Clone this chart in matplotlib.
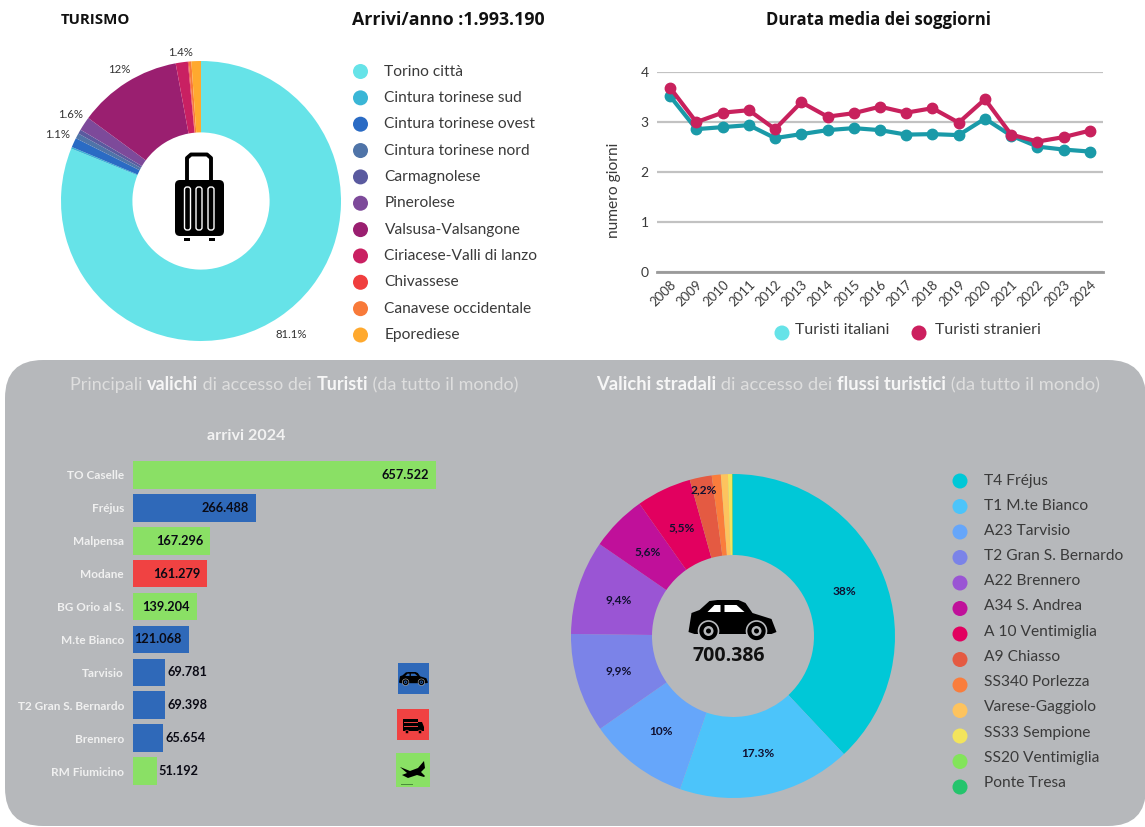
import math
import matplotlib
matplotlib.use("Agg")
import matplotlib.pyplot as plt
from matplotlib.patches import FancyBboxPatch, Rectangle, Circle, Polygon

plt.rcParams["font.family"] = ["Lato", "DejaVu Sans"]

W, H = 1145, 827

# top donut
area_names = ["Torino città", "Cintura torinese sud", "Cintura torinese ovest", "Cintura torinese nord",
              "Carmagnolese", "Pinerolese", "Valsusa-Valsangone", "Ciriacese-Valli di lanzo",
              "Chivassese", "Canavese occidentale", "Eporediese"]
area_share = [81.1, 0.2, 1.1, 0.6, 0.5, 1.6, 12.0, 1.4, 0.1, 0.3, 1.1]
area_colors = ["#66e3e8", "#3ab6d6", "#2a6bc4", "#4f74a8", "#5a5a9f", "#7d4a9a",
               "#9a1f70", "#c92062", "#f03e3e", "#f87a3a", "#ffa92e"]
area_labels = ["81.1%", "", "1.1%", "", "", "1.6%", "12%", "1.4%", "", "", ""]

# line chart
years = list(range(2008, 2025))
italiani = [3.52, 2.86, 2.90, 2.94, 2.68, 2.76, 2.84, 2.88, 2.84, 2.75, 2.76, 2.74, 3.07, 2.73, 2.51, 2.45, 2.41]
stranieri = [3.69, 3.00, 3.19, 3.24, 2.86, 3.40, 3.11, 3.18, 3.31, 3.19, 3.28, 2.99, 3.46, 2.75, 2.61, 2.70, 2.83]

# bars
valichi = ["TO Caselle", "Fréjus", "Malpensa", "Modane", "BG Orio al S.", "M.te Bianco",
           "Tarvisio", "T2 Gran S. Bernardo", "Brennero", "RM Fiumicino"]
arrivi = [657522, 266488, 167296, 161279, 139204, 121068, 69781, 69398, 65654, 51192]
arrivi_txt = ["657.522", "266.488", "167.296", "161.279", "139.204", "121.068", "69.781", "69.398", "65.654", "51.192"]
tipo = ["air", "road", "air", "rail", "air", "road", "road", "road", "road", "air"]
tipo_colors = {"air": "#8ae065", "road": "#2f69b9", "rail": "#f04242"}

# bottom donut
strade = ["T4 Fréjus", "T1 M.te Bianco", "A23 Tarvisio", "T2 Gran S. Bernardo", "A22 Brennero", "A34 S. Andrea",
          "A 10 Ventimiglia", "A9 Chiasso", "SS340 Porlezza", "Varese-Gaggiolo", "SS33 Sempione",
          "SS20 Ventimiglia", "Ponte Tresa"]
strade_share = [38.0, 17.3, 10.0, 9.9, 9.4, 5.6, 5.5, 2.2, 0.9, 0.7, 0.4, 0.05, 0.05]
strade_colors = ["#00c8d7", "#4cc4fa", "#66a6fa", "#7b83e8", "#9a55d4", "#c0109a", "#e2005f",
                 "#e45a42", "#fa7d3c", "#fdc35e", "#f3e45c", "#82e45a", "#24c46c"]
strade_labels = ["38%", "17.3%", "10%", "9,9%", "9,4%", "5,6%", "5,5%", "2,2%", "", "", "", "", ""]

PANEL = "#b6b8bb"
TXT = "#3a3a3a"
HEAD = ["Open Sans", "DejaVu Sans"]

fig = plt.figure(figsize=(W / 100, H / 100), dpi=100, facecolor="white")


def axes_px(x0, y0, x1, y1, **kw):
    return fig.add_axes([x0 / W, 1 - y1 / H, (x1 - x0) / W, (y1 - y0) / H], **kw)


# whole figure in pixel units, y down, for panel, titles, legends and icons
bg = axes_px(0, 0, W, H)
bg.set_xlim(0, W)
bg.set_ylim(H, 0)
bg.axis("off")
bg.set_zorder(0)

bg.add_patch(FancyBboxPatch((5, 360), 1141, 466, boxstyle="round,pad=0,rounding_size=38",
                            fc=PANEL, ec="none"))


def chain_text(x, y, parts, size):
    # regular and bold pieces, one after the other
    rend = fig.canvas.get_renderer()
    for s, weight in parts:
        col = "#f6f6f6" if weight == "bold" else "#dedede"
        t = bg.text(x, y, s, fontsize=size, color=col, fontweight=weight, va="center", ha="left")
        x += t.get_window_extent(rend).width


def donut(cx, cy, r, hole, shares, colors, labels, radii, lab_size, lab_color, lab_weight):
    ax = axes_px(cx - r, cy - r, cx + r, cy + r)
    ax.patch.set_visible(False)
    wedges, _ = ax.pie(shares, colors=colors, startangle=90, counterclock=False, radius=1,
                       wedgeprops={"width": 1 - hole, "linewidth": 0})
    ax.set_xlim(-1, 1)
    ax.set_ylim(-1, 1)
    for w, lab, rad in zip(wedges, labels, radii):
        if lab:
            a = math.radians((w.theta1 + w.theta2) / 2)
            ax.text(rad * math.cos(a), rad * math.sin(a), lab, ha="center", va="center",
                    fontsize=lab_size, color=lab_color, fontweight=lab_weight)
    return ax


# top row headers
bg.text(61, 20, "TURISMO", fontsize=10.8, fontweight="bold", family=HEAD, color="#111111", va="center")
bg.text(352, 20, "Arrivi/anno :1.993.190", fontsize=12.8, fontweight="bold", family=HEAD, color="#111111", va="center")
bg.text(878, 20, "Durata media dei soggiorni", fontsize=12, fontweight="bold", family=HEAD, color="#111111",
        va="center", ha="center")

donut(201, 201, 140, 0.49, area_share, area_colors, area_labels,
      [1.15, 0, 1.13, 0, 0, 1.12, 1.105, 1.07, 0, 0, 0], 8.2, "#333333", "normal")

for i, (name, col) in enumerate(zip(area_names, area_colors)):
    y = 71.5 + i * 26.35
    bg.add_patch(Circle((360.5, y), 7.5, fc=col, ec="none"))
    bg.text(384.5, y, name, fontsize=11.2, color=TXT, va="center")

# suitcase
bg.add_patch(FancyBboxPatch((175, 180), 49, 56, boxstyle="round,pad=0,rounding_size=5", fc="black", ec="none"))
bg.plot([187, 187, 191, 207, 211, 211], [179, 158, 154.5, 154.5, 158, 179], color="black", lw=2.8)
for sx in (184.5, 196, 208):
    bg.add_patch(FancyBboxPatch((sx, 187), 6, 43, boxstyle="round,pad=0,rounding_size=2.5",
                                fc="black", ec="white", lw=1))
for sx in (184, 209):
    bg.add_patch(Rectangle((sx, 238), 6, 3, fc="black", ec="none"))

# line chart
ax = axes_px(657, 72.3, 1103, 271.7)
ax.patch.set_visible(False)
ax.plot(years, italiani, color="#1a9aa8", lw=3, marker="o", ms=7.5, zorder=3)
ax.plot(years, stranieri, color="#c8215d", lw=3, marker="o", ms=7.5, zorder=4)
ax.set_xlim(2007.5, 2024.5)
ax.set_ylim(0, 4)
ax.set_yticks([0, 1, 2, 3, 4])
ax.set_xticks(years)
ax.set_xticklabels(years, rotation=45, ha="right", rotation_mode="anchor")
ax.tick_params(axis="both", length=0, labelsize=9.5, labelcolor=TXT)
ax.tick_params(axis="y", pad=6, labelsize=10)
ax.tick_params(axis="x", pad=5)
ax.grid(axis="y", color="#c2c2c2", lw=1.6, zorder=0)
ax.set_axisbelow(True)
for s in ax.spines.values():
    s.set_visible(False)
ax.axhline(0, color="#9a9a9a", lw=2, zorder=1, clip_on=False)
ax.set_ylabel("numero giorni", fontsize=11.2, color=TXT)
ax.yaxis.set_label_coords(-0.08, 0.41)

bg.add_patch(Circle((782, 333), 7.5, fc="#66e3e8", ec="none"))
bg.text(795, 330, "Turisti italiani", fontsize=11.4, color=TXT, va="center")
bg.add_patch(Circle((919, 333), 7.5, fc="#cc1f5e", ec="none"))
bg.text(935, 330, "Turisti stranieri", fontsize=11.4, color=TXT, va="center")

# panel titles
chain_text(70, 385, [("Principali ", "normal"), ("valichi", "bold"), (" di accesso dei ", "normal"),
                     ("Turisti", "bold"), (" (da tutto il mondo)", "normal")], 13)
chain_text(596, 385, [("Valichi stradali", "bold"), (" di accesso dei ", "normal"), ("flussi turistici", "bold"),
                      (" (da tutto il mondo)", "normal")], 13.2)
bg.text(246, 436, "arrivi 2024", fontsize=11.6, fontweight="bold", color="#f2f2f2", ha="center", va="center")

# bars
ax = axes_px(133, 458.5, 540, 787.5)
ax.patch.set_visible(False)
pos = list(range(len(valichi)))
ax.barh(pos, arrivi, height=0.84, color=[tipo_colors[t] for t in tipo])
ax.set_xlim(0, 884000)
ax.set_ylim(len(valichi) - 0.5, -0.5)
ax.set_xticks([])
ax.set_yticks(pos)
ax.set_yticklabels(valichi, fontsize=8.5, fontweight="bold", color="#f0f0f0")
ax.tick_params(axis="y", length=0, pad=6.5)
for s in ax.spines.values():
    s.set_visible(False)
for p, v, lab in zip(pos, arrivi, arrivi_txt):
    if v > 100000:
        ax.annotate(lab, (v, p), xytext=(-5, 0), textcoords="offset points", ha="right", va="center",
                    fontsize=9.2, fontweight="bold", color="#0a0a14")
    else:
        ax.annotate(lab, (v, p), xytext=(1.5, 0), textcoords="offset points", ha="left", va="center",
                    fontsize=9.2, fontweight="bold", color="#0a0a14")


def car(x, y, w, color="black", window="white", hub=None):
    # x, y top left, w width; shape drawn on a 88 x 41 grid
    k = w / 88
    pts = lambda p: [(x + a * k, y + b * k) for a, b in p]
    bg.add_patch(Polygon(pts([(0, 32), (3, 13), (11, 10), (21, 1), (29, 0), (50, 0), (57, 3), (64, 13), (83, 19),
                              (88, 32), (83, 34), (6, 34)]), fc=color, ec="none"))
    bg.add_patch(Polygon(pts([(19, 12), (26, 5), (32, 5), (32, 12)]), fc=window, ec="none"))
    bg.add_patch(Polygon(pts([(36, 5), (48, 5), (56, 12), (36, 12)]), fc=window, ec="none"))
    for cx in (20, 68):
        bg.add_patch(Circle((x + cx * k, y + 31 * k), 10 * k, fc=color, ec=PANEL, lw=1.2 * k))
        bg.add_patch(Circle((x + cx * k, y + 31 * k), 5 * k, fc=hub or PANEL, ec="none"))
        bg.add_patch(Circle((x + cx * k, y + 31 * k), 2.5 * k, fc=color, ec="none"))


# legend icons
bg.add_patch(Rectangle((398, 663), 31, 31, fc=tipo_colors["road"], ec="none"))
car(399, 672, 29, window=tipo_colors["road"], hub=tipo_colors["road"])
bg.add_patch(Rectangle((397, 709), 32, 31, fc=tipo_colors["rail"], ec="none"))
bg.add_patch(Rectangle((403, 719), 15, 12, fc="black", ec="none"))
bg.add_patch(Polygon([(418, 722), (422, 722), (424, 727), (424, 731), (418, 731)], fc="black", ec="none"))
for ly in (722, 726):
    bg.plot([404, 417], [ly, ly], color=tipo_colors["rail"], lw=0.7)
for wx in (407, 420):
    bg.add_patch(Circle((wx, 732), 1.8, fc="black", ec=tipo_colors["rail"], lw=0.5))
bg.add_patch(Rectangle((396, 753), 34, 34, fc=tipo_colors["air"], ec="none"))
bg.add_patch(Polygon([(400, 767), (410, 771), (418, 768), (424, 761), (425, 768), (421, 772), (425, 776),
                      (424, 777), (417, 775), (408, 778), (402, 775), (407, 773)], fc="black", ec="none"))
bg.plot([401, 412], [784, 784], color="#4a8a3a", lw=0.7)

# bottom donut
donut(733, 636, 162, 0.5, strade_share, strade_colors, strade_labels,
      [0.74, 0.74, 0.74, 0.74, 0.74, 0.74, 0.74, 0.92, 0, 0, 0, 0, 0], 8.6, "#101030", "bold")
car(688.5, 600, 88)
bg.text(728.5, 656, "700.386", fontsize=14, fontweight="bold", family=HEAD, color="#111111", ha="center", va="center")

for i, (name, col) in enumerate(zip(strade, strade_colors)):
    bg.add_patch(Circle((960, 481 + i * 25.5), 7.5, fc=col, ec="none"))
    bg.text(984, 480.5 + i * 25.2, name, fontsize=11.2, color=TXT, va="center")

fig.savefig("out.png", dpi=100)
